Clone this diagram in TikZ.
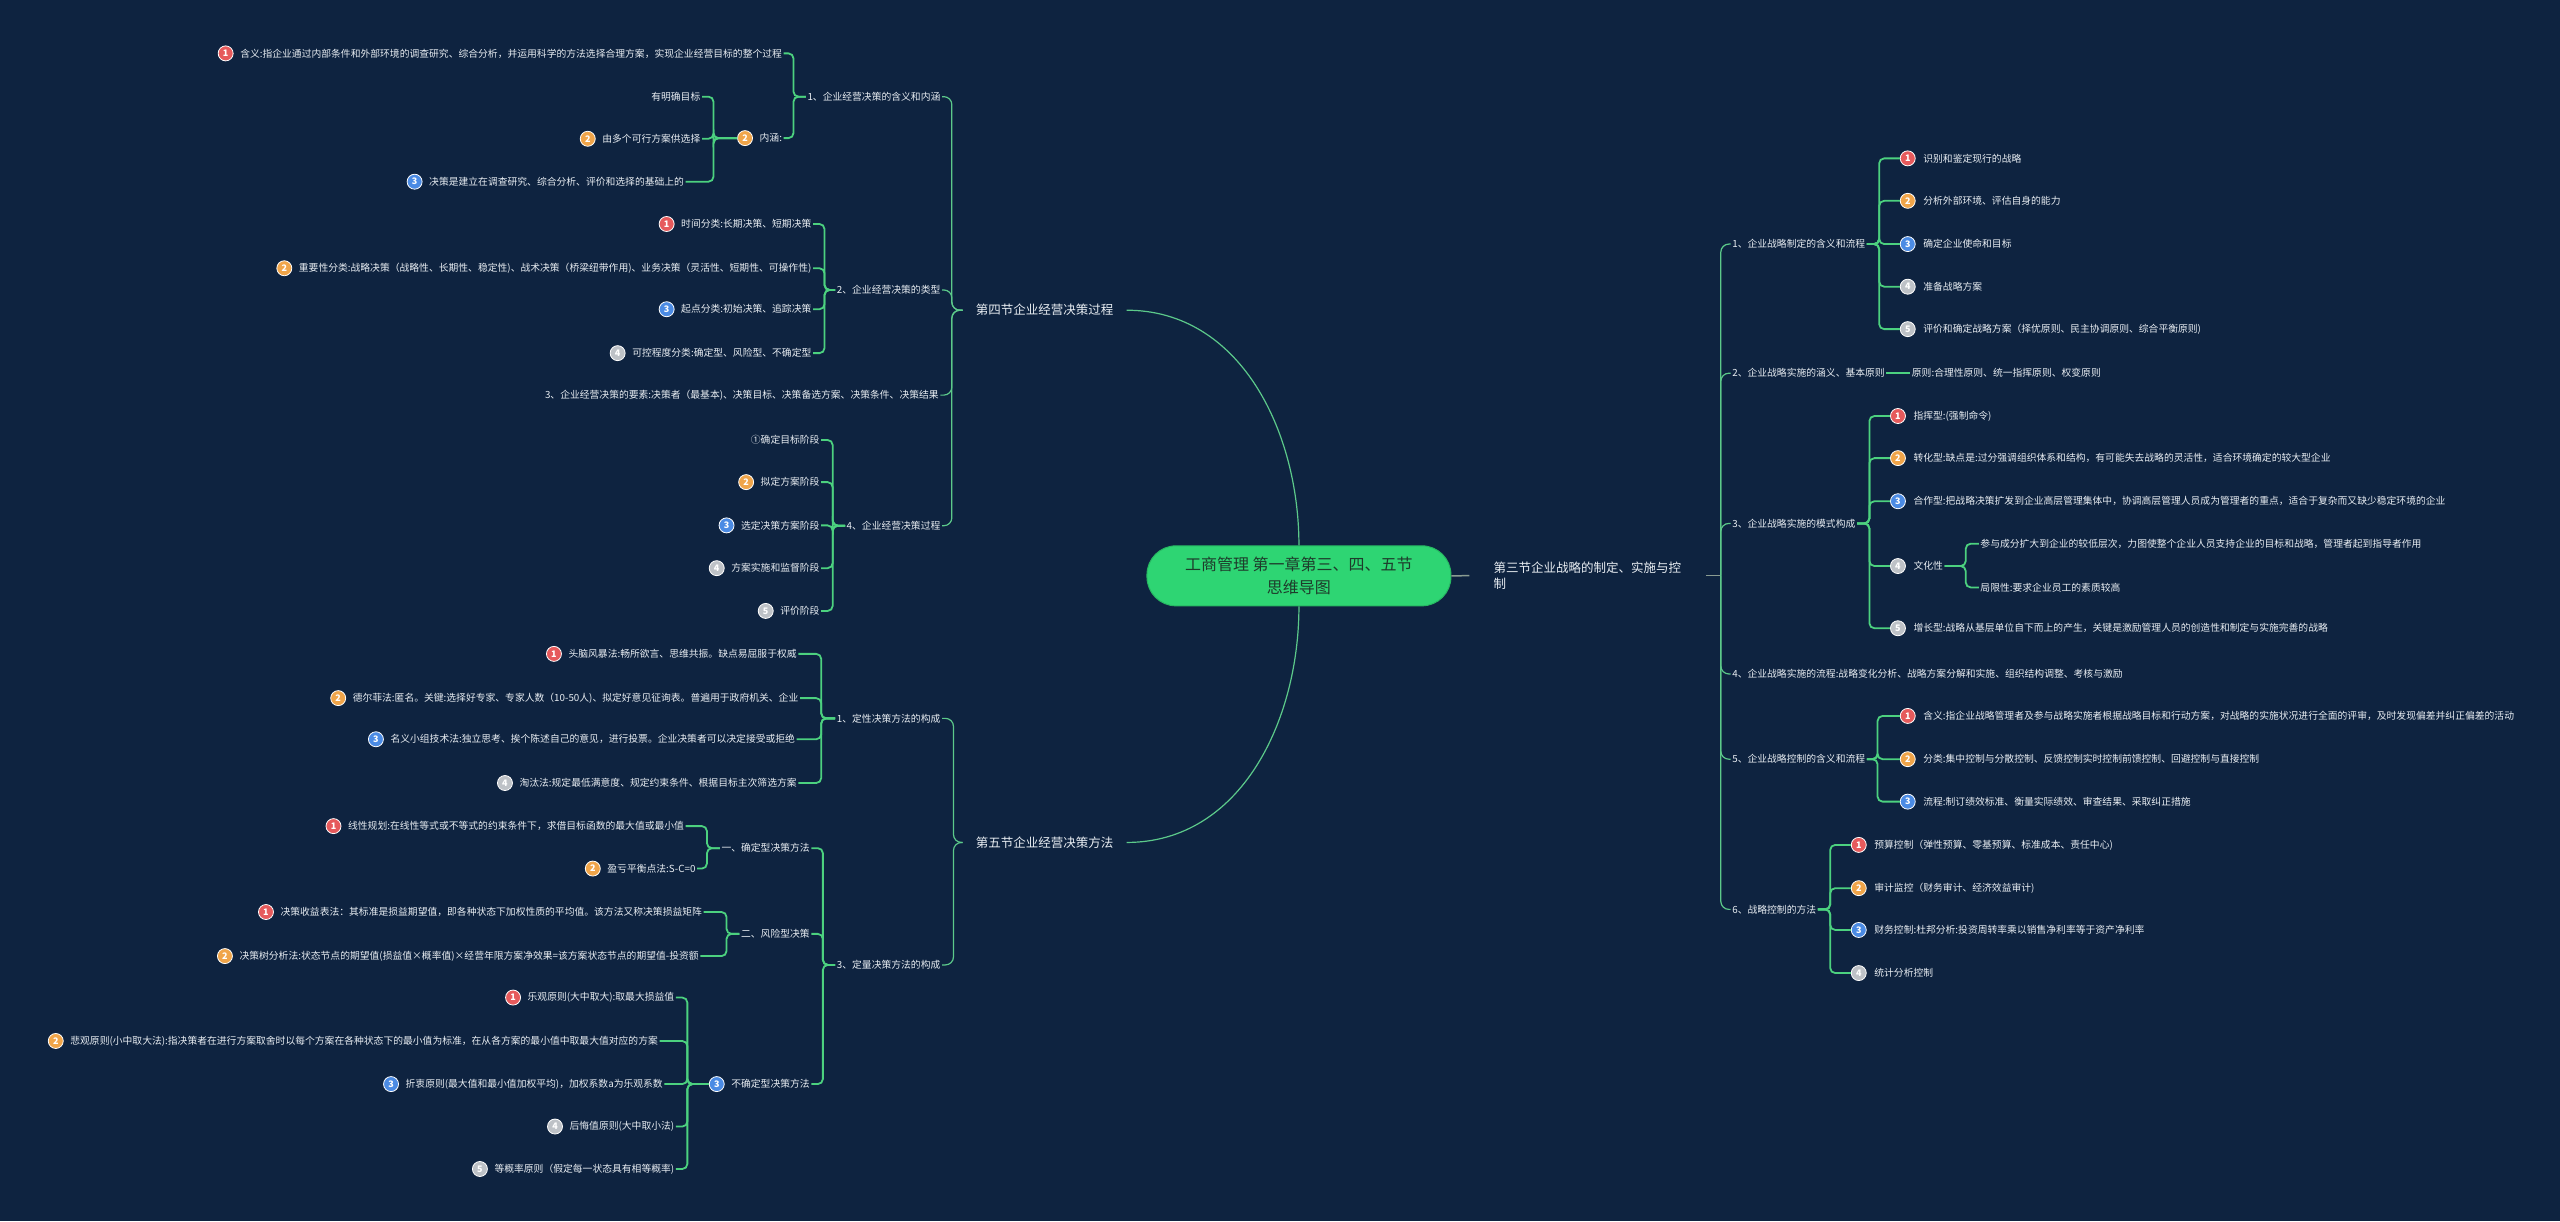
\documentclass[tikz,border=0pt]{standalone}
\usepackage{fontspec}
\setmainfont{Noto Sans CJK SC}
\usetikzlibrary{positioning}

\definecolor{bgnavy}{HTML}{0E2340}
\definecolor{linkgreen}{HTML}{4CD17F}
\definecolor{trunkgreen}{HTML}{5CC98A}
\definecolor{stubgray}{HTML}{8A9C92}
\definecolor{txtwhite}{HTML}{E8EDF2}
\definecolor{rootgreen}{HTML}{2ED573}
\definecolor{rootedge}{HTML}{27B862}
\definecolor{roottext}{HTML}{1E3B2B}
\definecolor{bred}{HTML}{E65A5C}
\definecolor{borange}{HTML}{F0A54A}
\definecolor{bblue}{HTML}{4B8BE4}
\definecolor{bgray}{HTML}{BEC2C7}

\begin{document}
\begin{tikzpicture}[
    x=1.6327pt, y=-1.6327pt,
    font=\fontsize{9.8}{12}\selectfont,
    root/.style={
        draw=rootedge, line width=1pt, fill=rootgreen, text=roottext,
        rounded corners=29pt, minimum width=304pt, minimum height=60pt,
        align=center, font=\fontsize{16}{23}\selectfont
    },
    lvone/.style={text=txtwhite, font=\fontsize{12.5}{16.3}\selectfont,
        inner xsep=13pt, inner ysep=2pt},
    topic/.style={text=txtwhite, inner xsep=1.5pt, inner ysep=1pt},
    badge/.style={circle, fill=#1, draw=white, line width=0.8pt,
        minimum size=15pt, inner sep=0pt, text=white,
        font=\fontsize{9}{9}\selectfont\bfseries},
    lnk/.style={draw=linkgreen, line width=1.8pt, rounded corners=5pt},
    trunk/.style={draw=trunkgreen, line width=1.2pt, rounded corners=8pt},
    stub/.style={draw=stubgray, line width=1.5pt}
]

% Background
\fill[bgnavy] (0,0) rectangle (1568,748);
\useasboundingbox (0,0) rectangle (1568,748);

% Root and first level
\node[root] (root) at (795.6,352.7) {工商管理 第一章第三、四、五节\\思维导图};

\node[lvone, anchor=east] (S4) at (690,190) {第四节企业经营决策过程};
\node[lvone, anchor=east] (S5) at (690,516) {第五节企业经营决策方法};
\node[lvone, anchor=west, text width=188pt, align=left, inner xsep=24pt]
    (S3) at (900,352.6) {第三节企业战略的制定、实施与控\\制};

\draw[trunk] (root.north) to[out=90, in=0] (S4.east);
\draw[trunk] (root.south) to[out=-90, in=0] (S5.east);
\draw[stub] (root.east) -- (S3.west);

% ---------------- 第四节 ----------------
\node[topic, anchor=east] (A1) at (577,59.2) {1、企业经营决策的含义和内涵};
\node[topic, anchor=east] (A2) at (577,177.6) {2、企业经营决策的类型};
\node[topic, anchor=east] (A3) at (576,242) {3、企业经营决策的要素:决策者（最基本)、决策目标、决策备选方案、决策条件、决策结果};
\node[topic, anchor=east] (A4) at (577,322) {4、企业经营决策过程};

% 1、含义和内涵
\node[topic, anchor=east] (A11) at (480,32.7) {含义:指企业通过内部条件和外部环境的调查研究、综合分析，并运用科学的方法选择合理方案，实现企业经营目标的整个过程};
\node[badge=bred, left=5pt of A11] (A11b) {1};
\node[topic, anchor=east] (A12) at (480,84.6) {内涵:};
\node[badge=borange, left=5pt of A12] (A12b) {2};
\node[topic, anchor=east] (A121) at (430,59.2) {有明确目标};
\node[topic, anchor=east] (A122) at (430,85) {由多个可行方案供选择};
\node[badge=borange, left=5pt of A122] (A122b) {2};
\node[topic, anchor=east] (A123) at (420,111.3) {决策是建立在调查研究、综合分析、评价和选择的基础上的};
\node[badge=bblue, left=5pt of A123] (A123b) {3};

% 2、类型
\node[topic, anchor=east] (A21) at (498,137.2) {时间分类:长期决策、短期决策};
\node[badge=bred, left=5pt of A21] (A21b) {1};
\node[topic, anchor=east] (A22) at (498,164.3) {重要性分类:战略决策（战略性、长期性、稳定性)、战术决策（桥梁纽带作用)、业务决策（灵活性、短期性、可操作性)};
\node[badge=borange, left=5pt of A22] (A22b) {2};
\node[topic, anchor=east] (A23) at (498,189.4) {起点分类:初始决策、追踪决策};
\node[badge=bblue, left=5pt of A23] (A23b) {3};
\node[topic, anchor=east] (A24) at (498,216.3) {可控程度分类:确定型、风险型、不确定型};
\node[badge=bgray, left=5pt of A24] (A24b) {4};

% 4、决策过程
\node[topic, anchor=east] (A41) at (503,269.5) {①确定目标阶段};
\node[topic, anchor=east] (A42) at (503,295.3) {拟定方案阶段};
\node[badge=borange, left=5pt of A42] (A42b) {2};
\node[topic, anchor=east] (A43) at (503,321.8) {选定决策方案阶段};
\node[badge=bblue, left=5pt of A43] (A43b) {3};
\node[topic, anchor=east] (A44) at (503,348) {方案实施和监督阶段};
\node[badge=bgray, left=5pt of A44] (A44b) {4};
\node[topic, anchor=east] (A45) at (503,374.2) {评价阶段};
\node[badge=bgray, left=5pt of A45] (A45b) {5};

% ---------------- 第五节 ----------------
\node[topic, anchor=east] (B1) at (577,440) {1、定性决策方法的构成};
\node[topic, anchor=east] (B3) at (577,591) {3、定量决策方法的构成};

\node[topic, anchor=east] (B11) at (489,400.5) {头脑风暴法:畅所欲言、思维共振。缺点易屈服于权威};
\node[badge=bred, left=5pt of B11] (B11b) {1};
\node[topic, anchor=east] (B12) at (490,427.6) {德尔菲法:匿名。关键:选择好专家、专家人数（10-50人)、拟定好意见征询表。普遍用于政府机关、企业};
\node[badge=borange, left=5pt of B12] (B12b) {2};
\node[topic, anchor=east] (B13) at (488,452.8) {名义小组技术法:独立思考、挨个陈述自己的意见，进行投票。企业决策者可以决定接受或拒绝};
\node[badge=bblue, left=5pt of B13] (B13b) {3};
\node[topic, anchor=east] (B14) at (489,479.6) {淘汰法:规定最低满意度、规定约束条件、根据目标主次筛选方案};
\node[badge=bgray, left=5pt of B14] (B14b) {4};

\node[topic, anchor=east] (B31) at (497,519.5) {一、确定型决策方法};
\node[topic, anchor=east] (B32) at (497,572) {二、风险型决策};
\node[topic, anchor=east] (B33) at (497,664) {不确定型决策方法};
\node[badge=bblue, left=5pt of B33] (B33b) {3};

\node[topic, anchor=east] (B311) at (420,506) {线性规划:在线性等式或不等式的约束条件下，求借目标函数的最大值或最小值};
\node[badge=bred, left=5pt of B311] (B311b) {1};
\node[topic, anchor=east] (B312) at (427,532) {盈亏平衡点法:S-C=0};
\node[badge=borange, left=5pt of B312] (B312b) {2};

\node[topic, anchor=east] (B321) at (431,558.6) {决策收益表法：其标准是损益期望值，即各种状态下加权性质的平均值。该方法又称决策损益矩阵};
\node[badge=bred, left=5pt of B321] (B321b) {1};
\node[topic, anchor=east] (B322) at (429,585.6) {决策树分析法:状态节点的期望值(损益值×概率值)×经营年限方案净效果=该方案状态节点的期望值-投资额};
\node[badge=borange, left=5pt of B322] (B322b) {2};

\node[topic, anchor=east] (B331) at (414,611) {乐观原则(大中取大):取最大损益值};
\node[badge=bred, left=5pt of B331] (B331b) {1};
\node[topic, anchor=east] (B332) at (404,637.6) {悲观原则(小中取大法):指决策者在进行方案取舍时以每个方案在各种状态下的最小值为标准，在从各方案的最小值中取最大值对应的方案};
\node[badge=borange, left=5pt of B332] (B332b) {2};
\node[topic, anchor=east] (B333) at (407,664) {折衷原则(最大值和最小值加权平均)，加权系数a为乐观系数};
\node[badge=bblue, left=5pt of B333] (B333b) {3};
\node[topic, anchor=east] (B334) at (414,690) {后悔值原则(大中取小法)};
\node[badge=bgray, left=5pt of B334] (B334b) {4};
\node[topic, anchor=east] (B335) at (414,716) {等概率原则（假定每一状态具有相等概率)};
\node[badge=bgray, left=5pt of B335] (B335b) {5};

% ---------------- 第三节 ----------------
\node[topic, anchor=west] (C1) at (1060,149.5) {1、企业战略制定的含义和流程};
\node[topic, anchor=west] (C2) at (1060,228.6) {2、企业战略实施的涵义、基本原则};
\node[topic, anchor=west] (C3) at (1060,320.6) {3、企业战略实施的模式构成};
\node[topic, anchor=west] (C4) at (1060,412.8) {4、企业战略实施的流程:战略变化分析、战略方案分解和实施、组织结构调整、考核与激励};
\node[topic, anchor=west] (C5) at (1060,465) {5、企业战略控制的含义和流程};
\node[topic, anchor=west] (C6) at (1060,557) {6、战略控制的方法};

\node[topic, anchor=west] (C11) at (1177,97) {识别和鉴定现行的战略};
\node[badge=bred, left=6pt of C11] (C11b) {1};
\node[topic, anchor=west] (C12) at (1177,123) {分析外部环境、评估自身的能力};
\node[badge=borange, left=6pt of C12] (C12b) {2};
\node[topic, anchor=west] (C13) at (1177,149.5) {确定企业使命和目标};
\node[badge=bblue, left=6pt of C13] (C13b) {3};
\node[topic, anchor=west] (C14) at (1177,175.6) {准备战略方案};
\node[badge=bgray, left=6pt of C14] (C14b) {4};
\node[topic, anchor=west] (C15) at (1177,201.6) {评价和确定战略方案（择优原则、民主协调原则、综合平衡原则)};
\node[badge=bgray, left=6pt of C15] (C15b) {5};

\node[topic, anchor=west] (C21) at (1170,228.6) {原则:合理性原则、统一指挥原则、权变原则};

\node[topic, anchor=west] (C31) at (1171,254.8) {指挥型:(强制命令)};
\node[badge=bred, left=6pt of C31] (C31b) {1};
\node[topic, anchor=west] (C32) at (1171,280.6) {转化型:缺点是:过分强调组织体系和结构，有可能失去战略的灵活性，适合环境确定的较大型企业};
\node[badge=borange, left=6pt of C32] (C32b) {2};
\node[topic, anchor=west] (C33) at (1171,307) {合作型:把战略决策扩发到企业高层管理集体中，协调高层管理人员成为管理者的重点，适合于复杂而又缺少稳定环境的企业};
\node[badge=bblue, left=6pt of C33] (C33b) {3};
\node[topic, anchor=west] (C34) at (1171,346.7) {文化性};
\node[badge=bgray, left=6pt of C34] (C34b) {4};
\node[topic, anchor=west] (C35) at (1171,384.8) {增长型:战略从基层单位自下而上的产生，关键是激励管理人员的创造性和制定与实施完善的战略};
\node[badge=bgray, left=6pt of C35] (C35b) {5};

\node[topic, anchor=west] (C341) at (1212,333) {参与成分扩大到企业的较低层次，力图使整个企业人员支持企业的目标和战略，管理者起到指导者作用};
\node[topic, anchor=west] (C342) at (1212,359.8) {局限性:要求企业员工的素质较高};

\node[topic, anchor=west] (C51) at (1177,438.5) {含义:指企业战略管理者及参与战略实施者根据战略目标和行动方案，对战略的实施状况进行全面的评审，及时发现偏差并纠正偏差的活动};
\node[badge=bred, left=6pt of C51] (C51b) {1};
\node[topic, anchor=west] (C52) at (1177,465) {分类:集中控制与分散控制、反馈控制实时控制前馈控制、回避控制与直接控制};
\node[badge=borange, left=6pt of C52] (C52b) {2};
\node[topic, anchor=west] (C53) at (1177,491) {流程:制订绩效标准、衡量实际绩效、审查结果、采取纠正措施};
\node[badge=bblue, left=6pt of C53] (C53b) {3};

\node[topic, anchor=west] (C61) at (1147,517.5) {预算控制（弹性预算、零基预算、标准成本、责任中心)};
\node[badge=bred, left=6pt of C61] (C61b) {1};
\node[topic, anchor=west] (C62) at (1147,544) {审计监控（财务审计、经济效益审计)};
\node[badge=borange, left=6pt of C62] (C62b) {2};
\node[topic, anchor=west] (C63) at (1147,569.6) {财务控制:杜邦分析:投资周转率乘以销售净利率等于资产净利率};
\node[badge=bblue, left=6pt of C63] (C63b) {3};
\node[topic, anchor=west] (C64) at (1147,596) {统计分析控制};
\node[badge=bgray, left=6pt of C64] (C64b) {4};

% Trunk x positions
\coordinate (tS4) at (583,0);
\coordinate (tS5) at (584,0);
\coordinate (tS3) at (1054,0);
\coordinate (tA1) at (486,0);
\coordinate (tA12) at (437,0);
\coordinate (tA2) at (505,0);
\coordinate (tA4) at (510,0);
\coordinate (tB1) at (503,0);
\coordinate (tB3) at (504,0);
\coordinate (tB31) at (433,0);
\coordinate (tB32) at (445,0);
\coordinate (tB33) at (421,0);
\coordinate (tC1) at (1151,0);
\coordinate (tC3) at (1145,0);
\coordinate (tC34) at (1204,0);
\coordinate (tC5) at (1150,0);
\coordinate (tC6) at (1121,0);

% Connectors, left side
\foreach \k in {A1,A2,A3,A4}
    \draw[trunk] (S4.west) -- (S4.west -| tS4) |- (\k.east);
\foreach \k in {B1,B3}
    \draw[trunk] (S5.west) -- (S5.west -| tS5) |- (\k.east);
\foreach \k in {A11,A12}
    \draw[lnk] (A1.west) -- (A1.west -| tA1) |- (\k.east);
\foreach \k in {A121,A122,A123}
    \draw[lnk] (A12b.west) -- (A12b.west -| tA12) |- (\k.east);
\foreach \k in {A21,A22,A23,A24}
    \draw[lnk] (A2.west) -- (A2.west -| tA2) |- (\k.east);
\foreach \k in {A41,A42,A43,A44,A45}
    \draw[lnk] (A4.west) -- (A4.west -| tA4) |- (\k.east);
\foreach \k in {B11,B12,B13,B14}
    \draw[lnk] (B1.west) -- (B1.west -| tB1) |- (\k.east);
\foreach \k in {B31,B32,B33}
    \draw[lnk] (B3.west) -- (B3.west -| tB3) |- (\k.east);
\foreach \k in {B311,B312}
    \draw[lnk] (B31.west) -- (B31.west -| tB31) |- (\k.east);
\foreach \k in {B321,B322}
    \draw[lnk] (B32.west) -- (B32.west -| tB32) |- (\k.east);
\foreach \k in {B331,B332,B333,B334,B335}
    \draw[lnk] (B33b.west) -- (B33b.west -| tB33) |- (\k.east);

% Connectors, right side
\draw[stub] (S3.east) -- (S3.east -| tS3);
\foreach \k in {C1,C2,C3,C4,C5,C6}
    \draw[trunk] (S3.east -| tS3) |- (\k.west);
\foreach \k in {C11b,C12b,C13b,C14b,C15b}
    \draw[lnk] (C1.east) -- (C1.east -| tC1) |- (\k.west);
\draw[lnk] (C2.east) -- (C21.west);
\foreach \k in {C31b,C32b,C33b,C34b,C35b}
    \draw[lnk] (C3.east) -- (C3.east -| tC3) |- (\k.west);
\foreach \k in {C341,C342}
    \draw[lnk] (C34.east) -- (C34.east -| tC34) |- (\k.west);
\foreach \k in {C51b,C52b,C53b}
    \draw[lnk] (C5.east) -- (C5.east -| tC5) |- (\k.west);
\foreach \k in {C61b,C62b,C63b,C64b}
    \draw[lnk] (C6.east) -- (C6.east -| tC6) |- (\k.west);

\end{tikzpicture}
\end{document}
